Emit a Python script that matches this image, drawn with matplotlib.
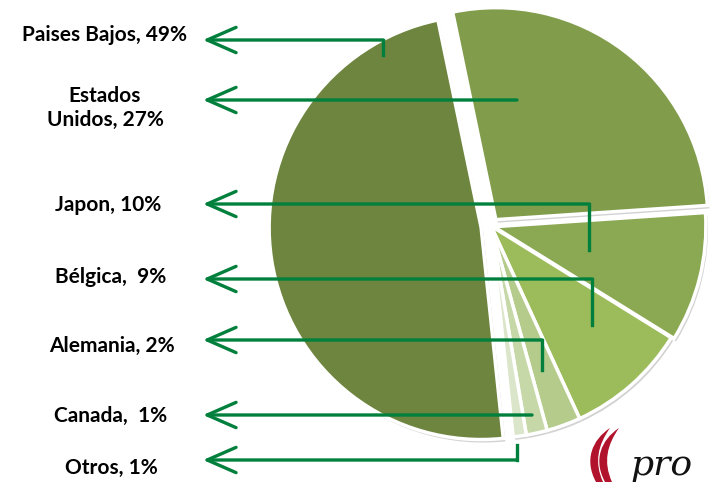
import matplotlib
matplotlib.use("Agg")
import matplotlib.pyplot as plt
from matplotlib.path import Path
from matplotlib.patches import PathPatch

# destination shares (slice sizes, labels as printed)
countries = ["Paises Bajos", "Estados Unidos", "Japon", "Bélgica", "Alemania", "Canada", "Otros"]
shares = [48.4, 27.2, 9.9, 9.3, 2.6, 1.6, 1.0]
label_texts = ["Paises Bajos, 49%", "Estados\nUnidos, 27%", "Japon, 10%", "Bélgica,  9%",
               "Alemania, 2%", "Canada,  1%", "Otros, 1%"]
colors = ["#6e853f", "#819c4b", "#8ba852", "#9cbb5a", "#b4cb8c", "#c6d8a8", "#dbe5c9"]
explode = [10, 8, 3, 0, 0, 0, 0]  # pixel offsets

W, H = 718, 482
fig = plt.figure(figsize=(W / 100, H / 100), dpi=100)
ax = fig.add_axes([0, 0, 1, 1])

cx, cy, r = 491, H - 226, 212
pie_kw = dict(startangle=276, counterclock=False, explode=explode, radius=r)

# soft grey shadow under the pie
ax.pie(shares, colors=["#d2d2d2"] * len(shares), center=(cx + 2, cy - 3),
       wedgeprops=dict(linewidth=0), **pie_kw)
ax.pie(shares, colors=colors, center=(cx, cy),
       wedgeprops=dict(edgecolor="white", linewidth=2.5), **pie_kw)

# leader lines: (label y, end x of horizontal, end y of vertical hook or None)
green = "#00803c"
leaders = [(40, 383, 55), (100, 517, None), (204, 589, 250), (279, 592, 325),
           (340, 542, 370), (415, 532, None), (460, 517, 445)]
for y, x_end, y_hook in leaders:
    ax.annotate("", xy=(203, H - y), xytext=(x_end, H - y),
                arrowprops=dict(arrowstyle="->,head_length=1.6,head_width=0.7",
                                color=green, lw=2.4, shrinkA=0, shrinkB=0,
                                mutation_scale=13))
    if y_hook is not None:
        ax.plot([x_end, x_end], [H - y, H - y_hook], color=green, lw=2.4,
                solid_capstyle="projecting")

label_pos = [(104, 35), (105, 108), (108, 205), (111, 277), (112, 346), (111, 416), (111, 468)]
for txt, (x, y) in zip(label_texts, label_pos):
    ax.text(x, H - y, txt, ha="center", va="center", fontsize=15, fontweight="bold",
            family="Lato", color="black", linespacing=1.3)

# logo fragment bottom right
for dx in (0, 9):
    flame = Path([(596 + dx, H - 482), (584 + dx, H - 460), (592 + dx, H - 440), (610 + dx, H - 428),
                  (598 + dx, H - 445), (594 + dx, H - 462), (603 + dx, H - 482), (596 + dx, H - 482)],
                 [Path.MOVETO, Path.CURVE4, Path.CURVE4, Path.CURVE4,
                  Path.CURVE4, Path.CURVE4, Path.CURVE4, Path.CLOSEPOLY])
    ax.add_patch(PathPatch(flame, facecolor="#b0132b", edgecolor="none"))
ax.text(630, H - 475, "pro", fontsize=26, family="DejaVu Serif", style="italic",
        va="baseline", ha="left", color="#111111")

ax.set_xlim(0, W)
ax.set_ylim(0, H)
ax.set_aspect("equal")
ax.axis("off")

fig.savefig("out.png", dpi=100)
